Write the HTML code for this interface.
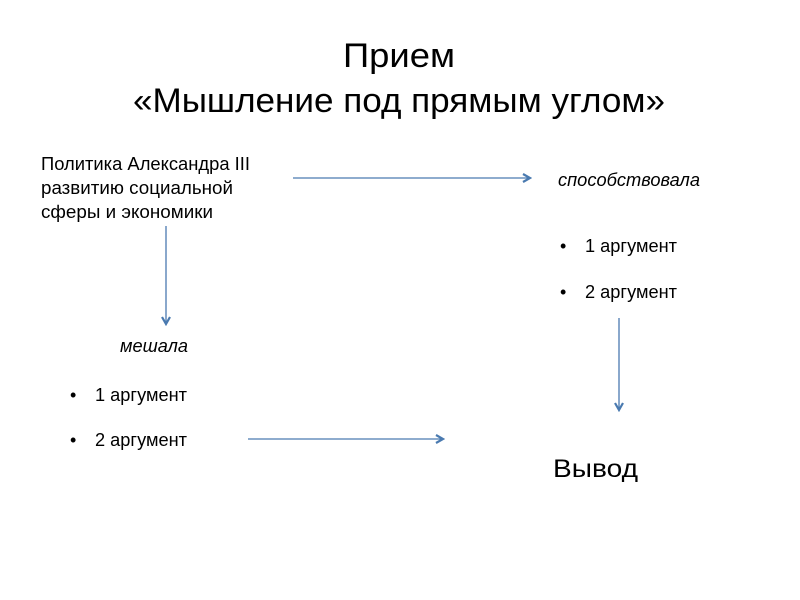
<!DOCTYPE html>
<html><head><meta charset="utf-8"><style>html,body{margin:0;padding:0;background:#fff}svg{display:block}</style></head>
<body>
<svg width="800" height="600" viewBox="0 0 800 600" xmlns="http://www.w3.org/2000/svg" font-family="'Liberation Sans', 'DejaVu Sans', sans-serif" fill="#000">
<defs><marker id="a" markerWidth="10" markerHeight="10" refX="8" refY="5" orient="auto" markerUnits="userSpaceOnUse"><path d="M1,1 L8,5 L1,9" fill="none" stroke="#4a7ab0" stroke-width="2.2"/></marker></defs>
<text x="343" y="67" font-size="34" textLength="112" lengthAdjust="spacingAndGlyphs">Прием</text>
<text x="133" y="112" font-size="34" textLength="532" lengthAdjust="spacingAndGlyphs">«Мышление под прямым углом»</text>
<g font-size="18">
<text x="41" y="170" textLength="209" lengthAdjust="spacingAndGlyphs">Политика Александра III</text>
<text x="41" y="194" textLength="192" lengthAdjust="spacingAndGlyphs">развитию социальной</text>
<text x="41" y="218" textLength="172" lengthAdjust="spacingAndGlyphs">сферы и экономики</text>
<text x="558" y="186" font-style="italic" textLength="142" lengthAdjust="spacingAndGlyphs">способствовала</text>
<text x="560" y="252">•</text><text x="585" y="252" textLength="92" lengthAdjust="spacingAndGlyphs">1 аргумент</text>
<text x="560" y="298">•</text><text x="585" y="298" textLength="92" lengthAdjust="spacingAndGlyphs">2 аргумент</text>
<text x="120" y="352" font-style="italic" textLength="68" lengthAdjust="spacingAndGlyphs">мешала</text>
<text x="70" y="401">•</text><text x="95" y="401" textLength="92" lengthAdjust="spacingAndGlyphs">1 аргумент</text>
<text x="70" y="446">•</text><text x="95" y="446" textLength="92" lengthAdjust="spacingAndGlyphs">2 аргумент</text>
</g>
<text x="553" y="477" font-size="25" textLength="85" lengthAdjust="spacingAndGlyphs">Вывод</text>
<g stroke="#4a7ab0" stroke-width="1.3" fill="none">
<line x1="293" y1="178" x2="530" y2="178" marker-end="url(#a)"/>
<line x1="166" y1="226" x2="166" y2="324" marker-end="url(#a)"/>
<line x1="619" y1="318" x2="619" y2="410" marker-end="url(#a)"/>
<line x1="248" y1="439" x2="443" y2="439" marker-end="url(#a)"/>
</g>
</svg>
</body></html>
